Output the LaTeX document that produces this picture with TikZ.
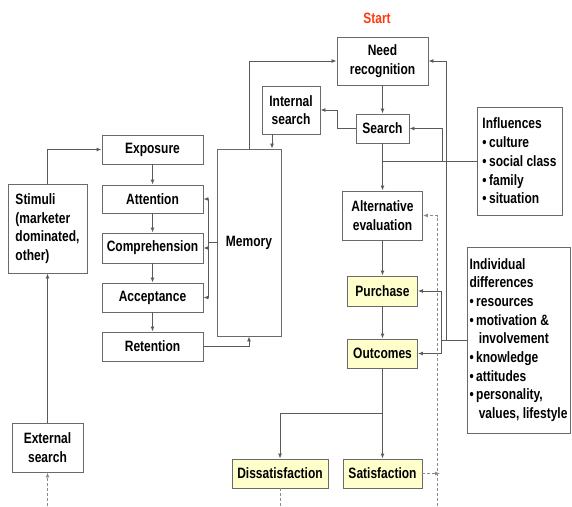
\documentclass[tikz,border=0pt]{standalone}
\usepackage{fontspec}
\setmainfont[FakeStretch=0.8]{Liberation Sans}
\usetikzlibrary{arrows.meta}
\definecolor{linegray}{HTML}{5A5A5A}
\definecolor{boxgray}{HTML}{6A6A6A}
\definecolor{dashgray}{HTML}{8A8A8A}
\definecolor{pale}{HTML}{FFFFCC}
\definecolor{startred}{HTML}{FF3A10}
\begin{document}
\begin{tikzpicture}[x=1pt,y=-1pt,
  font=\fontsize{15}{18.7}\selectfont\bfseries,
  box/.style={draw=boxgray,line width=0.9pt,fill=white,inner sep=0pt,align=center},
  ybox/.style={box,fill=pale},
  conn/.style={draw=linegray,line width=0.9pt},
  arr/.style={conn,-{Latex[length=5pt,width=4pt]}},
  dsh/.style={draw=dashgray,line width=0.9pt,dash pattern=on 3pt off 2pt},
  darr/.style={dsh,-{Latex[length=5pt,width=4pt]}}]
\useasboundingbox (0,0) rectangle (572,506);

\node[text=startred] (start) at (377,18) {Start};
\node[box,minimum width=91pt,minimum height=48pt] (need) at (382.5,61) {Need\\recognition};
\node[box,minimum width=58pt,minimum height=48pt] (int) at (291,110) {Internal\\search};
\node[box,minimum width=53pt,minimum height=29pt] (search) at (382.5,128.5) {Search};
\node[box,minimum width=85pt,minimum height=108pt,align=left] (infl) at (519.5,161)
  {Influences\\•\,culture\\•\,social class\\•\,family\\•\,situation};
\node[box,minimum width=80pt,minimum height=49pt] (alt) at (382.5,215.5) {Alternative\\evaluation};
\node[ybox,minimum width=70pt,minimum height=30pt] (pur) at (382.5,291) {Purchase};
\node[ybox,minimum width=70pt,minimum height=29pt] (out) at (382.5,353.5) {Outcomes};
\node[box,minimum width=103pt,minimum height=186pt,align=left] (ind) at (518.5,340)
  {Individual\\differences\\•\,resources\\•\,motivation \&\\\hphantom{•\,}\,involvement\\•\,knowledge\\•\,attitudes\\•\,personality,\\\hphantom{•\,}\,values, lifestyle};
\node[ybox,minimum width=96pt,minimum height=29pt] (dis) at (280,473.5) {Dissatisfaction};
\node[ybox,minimum width=79pt,minimum height=29pt] (sat) at (382.5,473.5) {Satisfaction};
\node[box,minimum width=71pt,minimum height=49pt] (ext) at (47.5,447.5) {External\\search};
\node[box,minimum width=79pt,minimum height=89pt,align=left] (stim) at (47.5,228.5)
  {Stimuli\\(marketer\\dominated,\\other)};
\node[box,minimum width=101pt,minimum height=29pt] (expo) at (152.5,149.5) {Exposure};
\node[box,minimum width=101pt,minimum height=28pt] (att) at (152.5,199) {Attention};
\node[box,minimum width=101pt,minimum height=30pt] (comp) at (152.5,248) {Comprehension};
\node[box,minimum width=101pt,minimum height=29pt] (acc) at (152.5,297.5) {Acceptance};
\node[box,minimum width=101pt,minimum height=29pt] (ret) at (152.5,346.5) {Retention};
\node[box,minimum width=64pt,minimum height=187pt] (mem) at (249,242.5) {Memory};

% left chain
\draw[arr] (ext.north) -- (stim.south);
\draw[arr] (stim.north) |- (expo.west);
\draw[arr] (expo.south) -- (att.north);
\draw[arr] (att.south) -- (comp.north);
\draw[arr] (comp.south) -- (acc.north);
\draw[arr] (acc.south) -- (ret.north);
\draw[conn] (mem.west) -- ++(-8,0) coordinate (mj);
\draw[arr] (mj) |- (att.east);
\draw[arr] (mj) |- (acc.east);
\draw[arr] (mj |- comp.east) -- (comp.east);
\draw[arr] (ret.east) -| (mem.south);
\draw[arr] (mem.north) |- (need.west);
\path ([xshift=-19pt]int.south) coordinate (is);
\draw[arr] (is) -- (is |- mem.north);

% central column
\draw[arr] (need.south) -- (search.north);
\draw[arr] (search.west) -- ++(-18,0) |- (int.east);
\draw[arr] (search.south) -- (alt.north);
\draw[conn] (infl.west) -- (infl.west -| search.south);
\path (infl.west) ++(-34,0) coordinate (ij);
\draw[arr] (ij) |- (search.east);
\draw[conn] (ind.west) -- ++(-25,0) coordinate (dj);
\path (ind.west) ++(-20,0) coordinate (nj);
\draw[arr] (nj) |- (need.east);
\draw[arr] (dj) |- (pur.east);
\draw[arr] (dj) |- (out.east);
\draw[arr] (alt.south) -- (pur.north);
\draw[arr] (pur.south) -- (out.north);
\draw[conn] (out.south) -- ++(0,45) coordinate (oj);
\draw[arr] (oj) -- (sat.north);
\draw[arr] (oj) -| (dis.north);

% dashed feedback
\coordinate (dbot) at (437,506);
\draw[darr] (dbot) |- (alt.east);
\coordinate (send) at (440,473.5);
\draw[darr] (sat.east) -- (send);
\draw[dsh] (dis.south) -- (dis.south |- dbot);
\coordinate (ebot) at (47.5,506);
\draw[darr] (ebot) -- (ext.south);
\end{tikzpicture}
\end{document}
